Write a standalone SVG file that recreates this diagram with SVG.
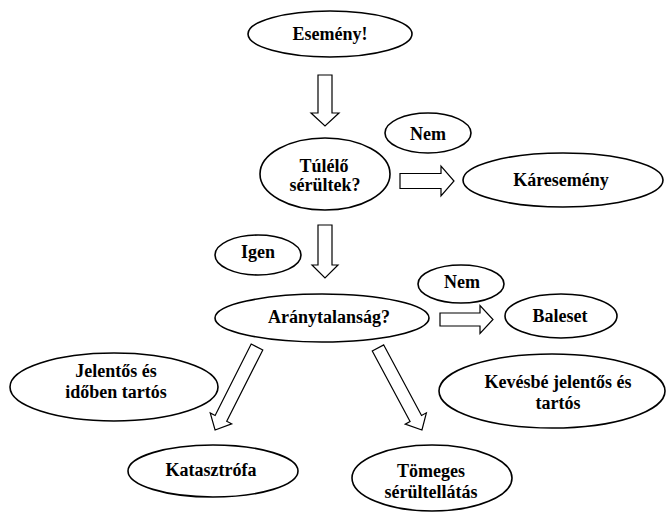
<svg xmlns="http://www.w3.org/2000/svg" width="668" height="513" viewBox="0 0 668 513">
<style>
.n{fill:#fff;stroke:#000;stroke-width:1.6}
.t{font-family:'Liberation Serif','Times New Roman','DejaVu Serif',serif;font-weight:bold;font-size:18px;fill:#000;text-anchor:middle}
.a{fill:#fff;stroke:#000;stroke-width:1.2;stroke-linejoin:miter}
</style>
<rect width="668" height="513" fill="#fff"/>
<g id="connectors">
<path class="a" transform="translate(325,75) rotate(90)" d="M0,-7 L38,-7 L38,-14 L51,0 L38,14 L38,7 L0,7 Z"/>
<path class="a" transform="translate(325,225) rotate(90)" d="M0,-7 L40,-7 L40,-13 L53,0 L40,13 L40,7 L0,7 Z"/>
<path class="a" transform="translate(400,181)" d="M0,-7.5 L41,-7.5 L41,-15 L54,0 L41,15 L41,7.5 L0,7.5 Z"/>
<path class="a" transform="translate(440,319.5)" d="M0,-6.5 L40,-6.5 L40,-14 L53,0 L40,14 L40,6.5 L0,6.5 Z"/>
<path class="a" transform="translate(257,347) rotate(116.8)" d="M0,-6.5 L80,-6.5 L80,-12 L93,0 L80,12 L80,6.5 L0,6.5 Z"/>
<path class="a" transform="translate(378,348) rotate(61.8)" d="M0,-6.5 L80,-6.5 L80,-12 L93,0 L80,12 L80,6.5 L0,6.5 Z"/>
</g>
<g id="esemeny"><ellipse class="n" cx="330" cy="34" rx="82" ry="23"/><text class="t" font-family="Liberation Serif, serif" x="330" y="40">Esemény!</text></g>
<g id="tulelo"><ellipse class="n" cx="325" cy="174" rx="65" ry="36"/><text class="t" x="324" y="172">Túlélő</text><text class="t" x="325" y="191">sérültek?</text></g>
<g id="nem1"><ellipse class="n" cx="428" cy="133" rx="43" ry="20"/><text class="t" x="428" y="140">Nem</text></g>
<g id="karesemeny"><ellipse class="n" cx="563" cy="180" rx="100" ry="27"/><text class="t" x="561" y="186">Káresemény</text></g>
<g id="igen"><ellipse class="n" cx="258" cy="255" rx="43" ry="20"/><text class="t" x="258" y="258">Igen</text></g>
<g id="aranytalansag"><ellipse class="n" cx="322" cy="318" rx="107" ry="24"/><text class="t" x="329" y="323">Aránytalanság?</text></g>
<g id="nem2"><ellipse class="n" cx="461" cy="284" rx="43" ry="19"/><text class="t" x="462" y="288">Nem</text></g>
<g id="baleset"><ellipse class="n" cx="561" cy="316" rx="56" ry="22"/><text class="t" x="560" y="322">Baleset</text></g>
<g id="jelentos"><ellipse class="n" cx="114" cy="387" rx="104" ry="34"/><text class="t" x="116" y="377">Jelentős és</text><text class="t" x="116" y="398">időben tartós</text></g>
<g id="kevesbe"><ellipse class="n" cx="552" cy="391" rx="113" ry="37"/><text class="t" x="558" y="388">Kevésbé jelentős és</text><text class="t" x="558" y="409">tartós</text></g>
<g id="katasztrofa"><ellipse class="n" cx="213" cy="471" rx="85" ry="26"/><text class="t" x="211" y="476">Katasztrófa</text></g>
<g id="tomeges"><ellipse class="n" cx="432" cy="478" rx="80" ry="33"/><text class="t" x="431" y="477">Tömeges</text><text class="t" x="431" y="498">sérültellátás</text></g>
</svg>
